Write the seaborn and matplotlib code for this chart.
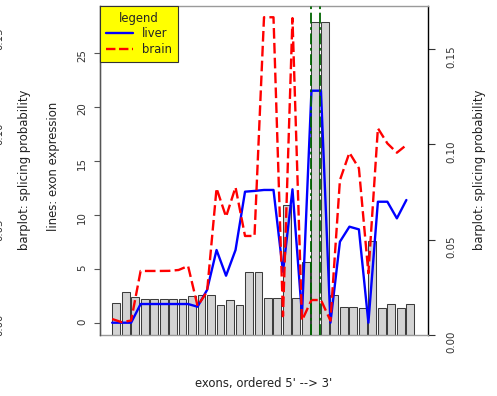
import numpy as np
import matplotlib
matplotlib.use("Agg")
import matplotlib.pyplot as plt
import seaborn as sns
from matplotlib.lines import Line2D

# ---- data -------------------------------------------------------------
exon_index = np.arange(1, 33)
splice_prob = [0.0166, 0.0227, 0.0198, 0.0187, 0.0187, 0.0187, 0.0187, 0.0187,
               0.0205, 0.0211, 0.0208, 0.0157, 0.0182, 0.0157, 0.0332, 0.0332,
               0.0193, 0.0193, 0.0680, 0.0193, 0.0381, 0.1644, 0.1644, 0.0210,
               0.0149, 0.0149, 0.0143, 0.0493, 0.0143, 0.0161, 0.0144, 0.0164]
liver = [0.0, 0.0, 0.0, 1.73, 1.73, 1.73, 1.73, 1.73, 1.73, 1.48, 3.03, 6.73,
         4.35, 6.73, 12.13, 12.2, 12.29, 12.29, 4.72, 12.35, 0.71, 21.48, 21.48,
         0.0, 7.5, 8.89, 8.64, 0.0, 11.2, 11.2, 9.66, 11.36]
brain = [0.34, 0.05, 0.2, 4.79, 4.79, 4.79, 4.8, 4.88, 5.25, 1.55, 2.87, 12.44,
         9.81, 12.54, 8.03, 8.03, 28.28, 28.28, 0.6, 28.2, 0.2, 2.1, 2.1, 0.19,
         13.2, 15.74, 14.3, 4.57, 18.0, 16.6, 15.74, 16.45]
marked_exons = [22, 23]
prob_ticks = [0.00, 0.05, 0.10, 0.15]
expr_ticks = [0, 5, 10, 15, 20, 25]

# ---- layout -----------------------------------------------------------
W, H = 497, 396
sns.set_theme(style="white")
plt.rcParams["font.family"] = ["DejaVu Sans"]
FS = 8.4
TFS = 7.4

fig = plt.figure(figsize=(W / 100, H / 100), dpi=100)
ax = fig.add_axes([100 / W, 1 - 335 / H, 328 / W, 329.3 / H])
ax2 = ax.twinx()
bar_w = 1 / 1.2

# bars: splicing probability (right-hand axis)
sns.barplot(x=exon_index, y=splice_prob, native_scale=True, width=bar_w,
            color="#d3d3d3", saturation=1, edgecolor="#3c3c3c",
            linewidth=0.75, ax=ax)
ax.set_xlim(-0.697, 33.863)
ax.set_ylim(0, 0.1728)
ax.set_xticks([])
ax.set_xlabel("")
ax.set_ylabel("")
ax.set_yticks(prob_ticks)
ax.set_yticklabels([f"{v:.2f}" for v in prob_ticks])
for side in ["top", "bottom", "left"]:
    ax.spines[side].set_color("#9a9a9a")
    ax.spines[side].set_linewidth(1.0)
ax.spines["right"].set_color("black")
ax.spines["right"].set_linewidth(1.0)

# lines: exon expression (left-hand axis), anchored at each bar's left edge
line_x = exon_index - bar_w / 2
sns.lineplot(x=line_x, y=liver, color="blue", linewidth=1.7, sort=False,
             ax=ax2, legend=False)
sns.lineplot(x=line_x, y=brain, color="red", linewidth=1.7, sort=False,
             linestyle=(0, (4.5, 1.8)), ax=ax2, legend=False)
for e in marked_exons:
    ax2.axvline(e - bar_w / 2 - 0.0833, color="darkgreen", linewidth=1.3,
                linestyle=(0, (6, 2, 1.5, 2)))
ax2.set_ylim(-1.139, 29.35)
ax2.yaxis.tick_left()
ax2.yaxis.set_label_position("left")
ax2.set_yticks(expr_ticks)
ax2.set_yticklabels([str(v) for v in expr_ticks])
ax2.tick_params(axis="y", left=True, right=False, labelleft=True,
                labelright=False, labelrotation=90, length=4.3, width=0.8,
                color="#555555", pad=5, labelsize=TFS, labelcolor="#333333")
ax2.set_ylabel("")
for s in ax2.spines.values():
    s.set_visible(False)
ax2.spines["left"].set_visible(True)
ax2.spines["left"].set_color("#555555")
ax2.spines["left"].set_linewidth(1.0)

# probability scale on the right (twinning moved it to the left)
ax.yaxis.tick_right()
ax.tick_params(axis="y", right=True, left=False, labelright=True,
               labelleft=False, labelrotation=90, length=4.8, width=0.8,
               color="#333333", pad=8.5, labelsize=TFS, labelcolor="#333333")

handles = [Line2D([], [], color="blue", linewidth=1.7),
           Line2D([], [], color="red", linewidth=1.7,
                  linestyle=(0, (4.0, 1.5)))]
leg = ax2.legend(handles, ["liver", "brain"], title="legend",
                 loc="upper left", bbox_to_anchor=(0, 1), borderaxespad=0,
                 fontsize=FS, title_fontsize=FS, frameon=True,
                 fancybox=False, framealpha=1, facecolor="yellow",
                 edgecolor="#333333", handlelength=2.3, handletextpad=0.8,
                 borderpad=0.5, labelspacing=0.25)
leg.get_frame().set_linewidth(0.8)

# axis titles
fig.text(25 / W, 1 - 170 / H, "barplot: splicing probability", rotation=90,
         ha="center", va="center", fontsize=FS, color="#222222")
fig.text(53 / W, 1 - 166 / H, "lines: exon expression", rotation=90,
         ha="center", va="center", fontsize=FS, color="#222222")
fig.text(480 / W, 1 - 170 / H, "barplot: splicing probability", rotation=90,
         ha="center", va="center", fontsize=FS, color="#222222")
fig.text(264 / W, 1 - 384 / H, "exons, ordered 5' --> 3'",
         ha="center", va="center", fontsize=FS, color="#222222")

# probability scale labels cut by the left margin
for v, yp in zip(prob_ticks, [325, 230, 134, 39]):
    fig.text(4.5 / W, 1 - yp / H, f"{v:.2f}", rotation=90, ha="right",
             va="center", fontsize=TFS, color="#333333")

fig.savefig("out.png", dpi=100)
